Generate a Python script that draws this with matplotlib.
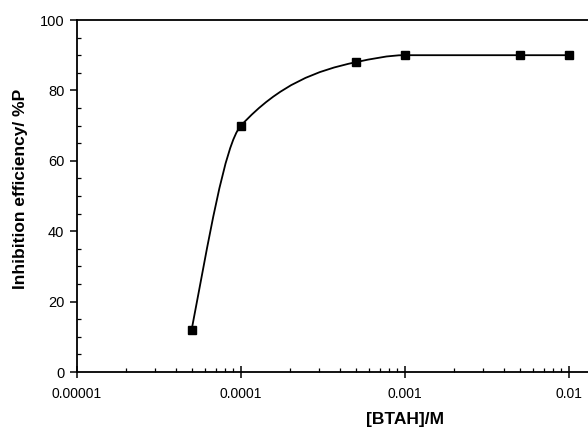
import numpy as np
import matplotlib.pyplot as plt
from matplotlib.path import Path
from matplotlib.patches import PathPatch
from matplotlib.ticker import FixedLocator, NullFormatter, MultipleLocator

plt.rcParams['font.family'] = ['Liberation Sans', 'DejaVu Sans']

conc = [5e-5, 1e-4, 5e-4, 1e-3, 5e-3, 1e-2]
eff = [12, 70, 88, 90, 90, 90]
xticks = [1e-5, 1e-4, 1e-3, 1e-2]
xticklabels = ['0.00001', '0.0001', '0.001', '0.01']

fig = plt.figure(figsize=(5.88, 4.32), dpi=100)
ax = fig.add_axes([77/588, 1 - 372/432, 1 - 77/588, (372 - 20)/432])

# smoothed line: shape-preserving (pchip-like) slopes in log-x space,
# each segment drawn as a cubic bezier
u = np.log10(conc)
y = np.array(eff, dtype=float)
h = np.diff(u)
d = np.diff(y) / h
n = len(u)
m = np.zeros(n)
for i in range(1, n - 1):
    if d[i - 1] * d[i] > 0:
        w1 = 2 * h[i] + h[i - 1]
        w2 = h[i] + 2 * h[i - 1]
        m[i] = (w1 + w2) / (w1 / d[i - 1] + w2 / d[i])
m[0] = ((2 * h[0] + h[1]) * d[0] - h[0] * d[1]) / (h[0] + h[1])
m[-1] = 0.0

verts = [(conc[0], eff[0])]
codes = [Path.MOVETO]
for i in range(n - 1):
    t = h[i] / 3
    verts += [(10**(u[i] + t), y[i] + m[i] * t),
              (10**(u[i + 1] - t), y[i + 1] - m[i + 1] * t),
              (conc[i + 1], eff[i + 1])]
    codes += [Path.CURVE4] * 3
ax.add_patch(PathPatch(Path(verts, codes), facecolor='none', edgecolor='black',
                       lw=1.3, clip_on=False))

ax.plot(conc, eff, ls='none', marker='s', ms=5.5, color='black', clip_on=False)

ax.set_xscale('log')
ax.set_xlim(1e-5, 1e-2 * 10**(19/164))
ax.set_ylim(0, 100)

ax.xaxis.set_major_locator(FixedLocator(xticks))
ax.set_xticklabels(xticklabels)
ax.xaxis.set_minor_locator(FixedLocator(
    [k * 10.0**e for e in (-5, -4, -3, -2) for k in range(2, 10) if k * 10.0**e < 0.0131]))
ax.xaxis.set_minor_formatter(NullFormatter())
ax.yaxis.set_major_locator(MultipleLocator(20))
ax.yaxis.set_minor_locator(MultipleLocator(5))

for s in ['left', 'bottom', 'top']:
    ax.spines[s].set_linewidth(1.3)
ax.spines['right'].set_visible(False)

ax.tick_params(axis='x', which='major', direction='inout', length=8, width=1.1,
               labelsize=10, pad=7)
ax.tick_params(axis='y', which='major', direction='out', length=5, width=1.1,
               labelsize=10.5, pad=4)
ax.tick_params(which='minor', direction='in', length=3, width=0.9)

ax.set_xlabel('[BTAH]/M', fontsize=12.5, fontweight='bold')
ax.set_ylabel('Inhibition efficiency/ %P', fontsize=12.5, fontweight='bold')
ax.xaxis.set_label_coords((405 - 77) / 511, -(412 - 372) / 352)
ax.yaxis.set_label_coords(-(77 - 28) / 511, (372 - 189) / 352)

fig.savefig('out.png', dpi=100)
